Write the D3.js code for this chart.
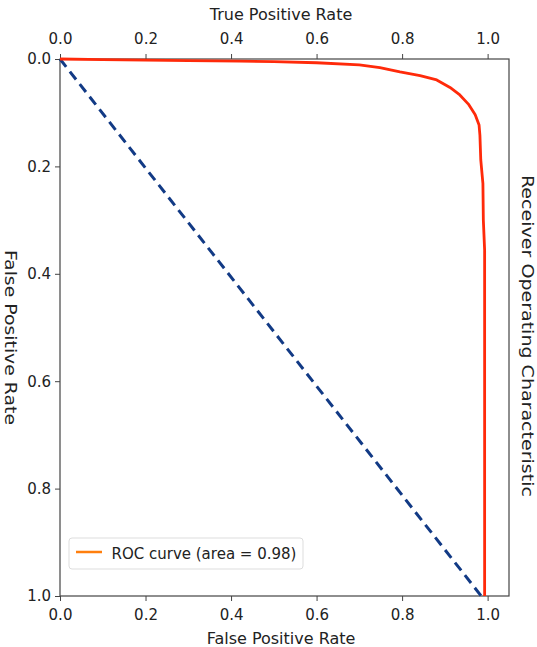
<!DOCTYPE html>
<html lang="en">
<head>
    <meta charset="UTF-8">
    <title>ROC</title>
    <script src="https://d3js.org/d3.v7.min.js"></script>
    <style>
        body { margin: 0; background: #fff; }
        text { font-family: "DejaVu Sans", sans-serif; fill: #222; }
    </style>
</head>
<body>
<svg width="537" height="647"></svg>
<script>
    // curve
    let curveX = [0, 0.1, 0.2, 0.3, 0.42, 0.5, 0.6, 0.7, 0.748, 0.795, 0.842, 0.881, 0.912, 0.935, 0.955, 0.971, 0.98, 0.982, 0.984, 0.989, 0.99, 0.993, 0.993]
    let curveY = [0, 0.001, 0.002, 0.003, 0.004, 0.005, 0.007, 0.011, 0.016, 0.024, 0.031, 0.039, 0.053, 0.067, 0.084, 0.104, 0.123, 0.142, 0.188, 0.232, 0.3, 0.356, 1.0]
    let diagX = [0, 0.985]
    let diagY = [0, 1]
    let ticks = [0, 0.2, 0.4, 0.6, 0.8, 1.0]
    let legendLabel = 'ROC curve (area = 0.98)'

    let svg = d3.select('svg')
    let mLeft = 60, mTop = 59, mRight = 509, mBottom = 596

    let x = d3.scaleLinear().domain([0, 1.05]).range([mLeft, mRight])
    let y = d3.scaleLinear().domain([0, 1]).range([mTop, mBottom])

    function styleAxis(g) {
        g.selectAll('text').style('font-size', '15px').style('font-family', '"DejaVu Sans", sans-serif').attr('fill', '#222')
        g.selectAll('line').attr('stroke', '#444')
        g.select('.domain').remove()
    }

    svg.append('g').attr('transform', `translate(0,${mBottom})`)
        .call(d3.axisBottom(x).tickValues(ticks).tickFormat(d3.format('.1f')).tickSize(5).tickPadding(8))
        .call(styleAxis)
    svg.append('g').attr('transform', `translate(0,${mTop})`)
        .call(d3.axisTop(x).tickValues(ticks).tickFormat(d3.format('.1f')).tickSize(5).tickPadding(10))
        .call(styleAxis)
    svg.append('g').attr('transform', `translate(${mLeft},0)`)
        .call(d3.axisLeft(y).tickValues(ticks).tickFormat(d3.format('.1f')).tickSize(5).tickPadding(4))
        .call(styleAxis)

    // frame
    svg.append('rect')
        .attr('x', mLeft).attr('y', mTop)
        .attr('width', mRight - mLeft).attr('height', mBottom - mTop)
        .attr('fill', 'none').attr('stroke', '#444').attr('stroke-width', 1.2)

    let line = d3.line().x(d => x(d[0])).y(d => y(d[1]))

    svg.append('path')
        .datum(diagX.map((d, i) => [d, diagY[i]]))
        .attr('d', line)
        .attr('fill', 'none').attr('stroke', '#123a85').attr('stroke-width', 3)
        .attr('stroke-dasharray', '10,6')

    svg.append('path')
        .datum(curveX.map((d, i) => [d, curveY[i]]))
        .attr('d', line)
        .attr('fill', 'none').attr('stroke', '#ff2a0a').attr('stroke-width', 2.8)
        .attr('stroke-linejoin', 'round')

    // legend
    let lg = svg.append('g').attr('transform', 'translate(69,538)')
    lg.append('rect').attr('width', 234).attr('height', 31).attr('rx', 3)
        .attr('fill', '#fff').attr('fill-opacity', 0.8).attr('stroke', '#ddd')
    lg.append('line').attr('x1', 7).attr('x2', 33).attr('y1', 14).attr('y2', 14)
        .attr('stroke', '#ff7f0e').attr('stroke-width', 2.5)
    lg.append('text').attr('x', 42.5).attr('y', 21).style('font-size', '15px').text(legendLabel)

    // labels
    svg.append('text').attr('x', 281).attr('y', 19.5)
        .attr('text-anchor', 'middle').style('font-size', '16px').text('True Positive Rate')
    svg.append('text').attr('x', 281).attr('y', 644)
        .attr('text-anchor', 'middle').style('font-size', '16px').text('False Positive Rate')
    svg.append('text').attr('transform', 'translate(5,337.5) rotate(90)')
        .attr('text-anchor', 'middle').style('font-size', '16px')
        .attr('textLength', 175).attr('lengthAdjust', 'spacingAndGlyphs')
        .text('False Positive Rate')
    svg.append('text').attr('transform', 'translate(521.5,336) rotate(90)')
        .attr('text-anchor', 'middle').style('font-size', '16px')
        .attr('textLength', 322).attr('lengthAdjust', 'spacingAndGlyphs')
        .text('Receiver Operating Characteristic')
</script>
</body>
</html>
